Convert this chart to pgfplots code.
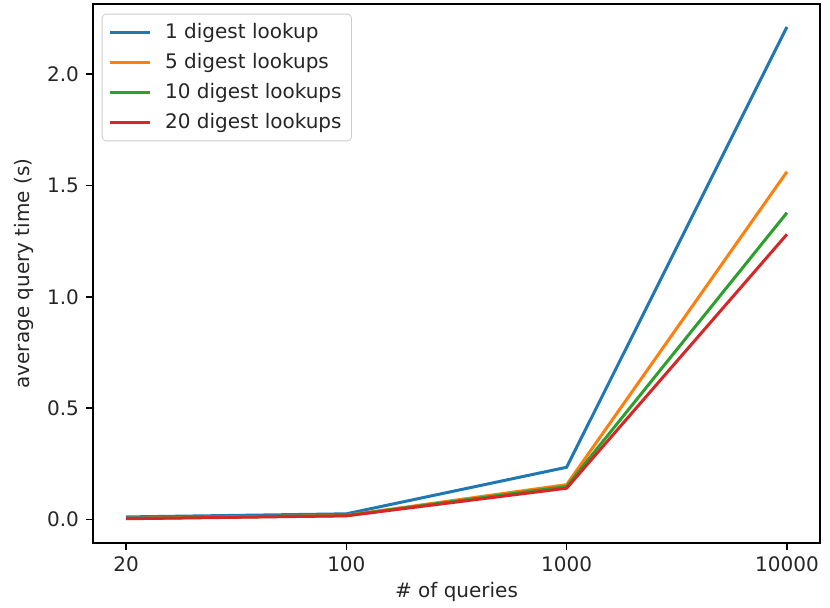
\documentclass[border=0pt]{standalone}
\usepackage{pgfplots}
\pgfplotsset{compat=1.18}
\usepackage{fontspec}
\setmainfont{DejaVu Sans}
\definecolor{tabblue}{HTML}{1F77B4}
\definecolor{taborange}{HTML}{FF7F0E}
\definecolor{tabgreen}{HTML}{2CA02C}
\definecolor{tabred}{HTML}{D62728}
\begin{document}
\begin{tikzpicture}
\begin{axis}[
  scale only axis,
  width=363.5pt, height=269.5pt,
  xmin=-0.15, xmax=3.15,
  ymin=-0.105, ymax=2.315,
  xtick={0,1,2,3},
  xticklabels={20,100,1000,10000},
  ytick={0,0.5,1,1.5,2},
  yticklabel style={/pgf/number format/fixed,/pgf/number format/precision=1,/pgf/number format/fixed zerofill},
  /pgf/number format/assume math mode=true,
  tick align=outside,
  major tick length=3.5pt,
  tick style={black, line width=0.8pt},
  axis line style={line width=0.8pt},
  xtick pos=bottom, ytick pos=left,
  font=\fontsize{10pt}{12pt}\selectfont,
  ticklabel style={font=\fontsize{10pt}{12pt}\selectfont, text=black!85},
  xlabel={\# of queries},
  ylabel={average query time (s)},
  label style={font=\fontsize{10pt}{12pt}\selectfont, text=black!85},
  xlabel style={yshift=2pt},
  legend cell align=left,
  legend style={draw=black!20, rounded corners=2pt, font=\fontsize{10pt}{12pt}\selectfont, text=black!85, at={(0.012,0.982)}, anchor=north west, row sep=2pt, inner xsep=3pt, inner ysep=2.5pt},
  legend image code/.code={\draw[#1, line width=1.5pt] (1pt,0pt) -- (21pt,0pt); \path (26pt,0pt);},
  every axis plot/.append style={line width=1.5pt},
]
\addplot[tabblue] coordinates {(0,0.012) (1,0.026) (2,0.235) (3,2.212)};
\addlegendentry{1 digest lookup}
\addplot[taborange] coordinates {(0,0.006) (1,0.019) (2,0.157) (3,1.562)};
\addlegendentry{5 digest lookups}
\addplot[tabgreen] coordinates {(0,0.005) (1,0.018) (2,0.149) (3,1.378)};
\addlegendentry{10 digest lookups}
\addplot[tabred] coordinates {(0,0.004) (1,0.017) (2,0.141) (3,1.281)};
\addlegendentry{20 digest lookups}
\end{axis}
\path (current axis.south west) ++(-46.5pt,-32pt) coordinate (bbsw);
\path (current axis.north east) ++(5pt,2pt) coordinate (bbne);
\path (bbsw) (bbne);
\end{tikzpicture}
\end{document}
